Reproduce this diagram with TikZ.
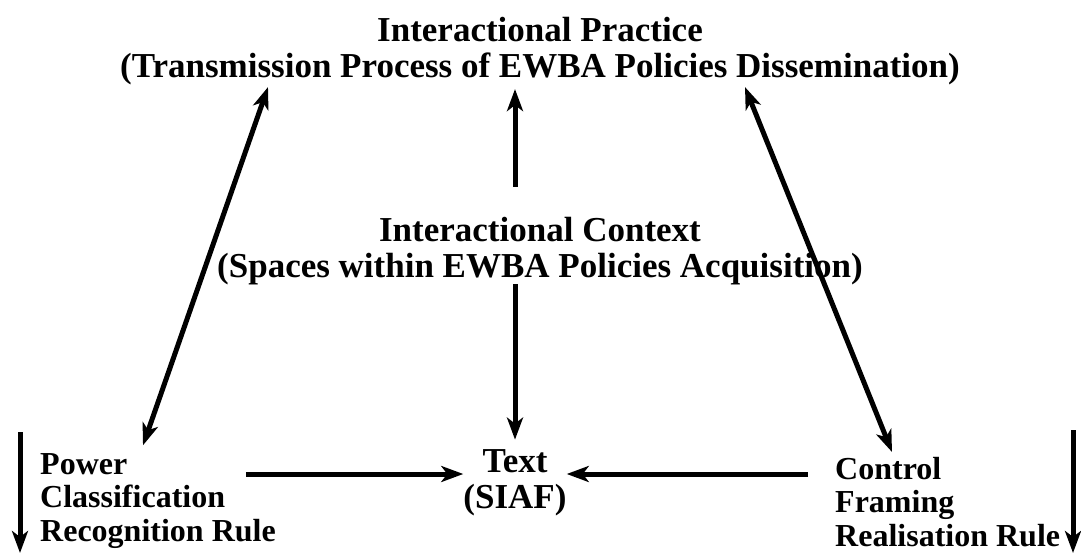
\documentclass[tikz,border=0pt]{standalone}
\usepackage{fontspec}
\setmainfont{Liberation Serif}
\usepackage{tikz}
\usetikzlibrary{arrows.meta}

\tikzset{
  lbl/.style={font=\fontsize{35}{36}\selectfont\bfseries, inner sep=0pt},
  side/.style={lbl, align=left, anchor=west, font=\fontsize{32}{33.5}\selectfont\bfseries},
  arr/.style={line width=5pt, -{Stealth[length=22pt,width=16pt,inset=6pt]}},
  darr/.style={line width=5pt, {Stealth[length=22pt,width=16pt,inset=6pt]}-{Stealth[length=22pt,width=16pt,inset=6pt]}}
}

\begin{document}
\begin{tikzpicture}[x=1pt,y=-1pt]
        \useasboundingbox (0,0) rectangle (1081,554);

        % labels
        \node[lbl, align=center] (practice) at (540,51) {Interactional Practice\\(Transmission Process of EWBA Policies Dissemination)};
        \node[lbl, align=center] (context) at (540,251) {Interactional Context\\(Spaces within EWBA Policies Acquisition)};
        \node[lbl, align=center] (text) at (515,483) {Text\\(SIAF)};
        \node[side] (power) at (40,501) {Power\\Classification\\Recognition Rule};
        \node[side] (control) at (835,502) {Control\\Framing\\Realisation Rule};

        % free ends of the side arrows
        \coordinate (lefttop) at (20,432);
        \coordinate (leftbot) at (20,553);
        \coordinate (righttop) at (1073,430);
        \coordinate (rightbot) at (1073,553);

        %% arcs
        \draw[arr] ([xshift=-25pt,yshift=30pt]context.north) -- ([xshift=-25pt,yshift=-4pt]practice.south);
        \draw[arr] ([xshift=-25pt,yshift=1pt]context.south) -- ([yshift=10pt]text.north);
        \draw[darr] ([xshift=-272pt,yshift=-2pt]practice.south) -- ([xshift=103pt,yshift=8pt]power.north west);
        \draw[darr] ([xshift=205pt,yshift=-2pt]practice.south) -- ([xshift=57pt,yshift=5pt]control.north west);
        \draw[arr] ([xshift=-30pt]power.east |- text.west) ++(0,-9) -- ([yshift=9pt]text.west);
        \draw[arr] ([xshift=-27pt]control.west |- text.east) ++(0,-9) -- ([yshift=9pt]text.east);
        \draw[arr] (lefttop) -- (leftbot);
        \draw[arr] (righttop) -- (rightbot);
\end{tikzpicture}
\end{document}
